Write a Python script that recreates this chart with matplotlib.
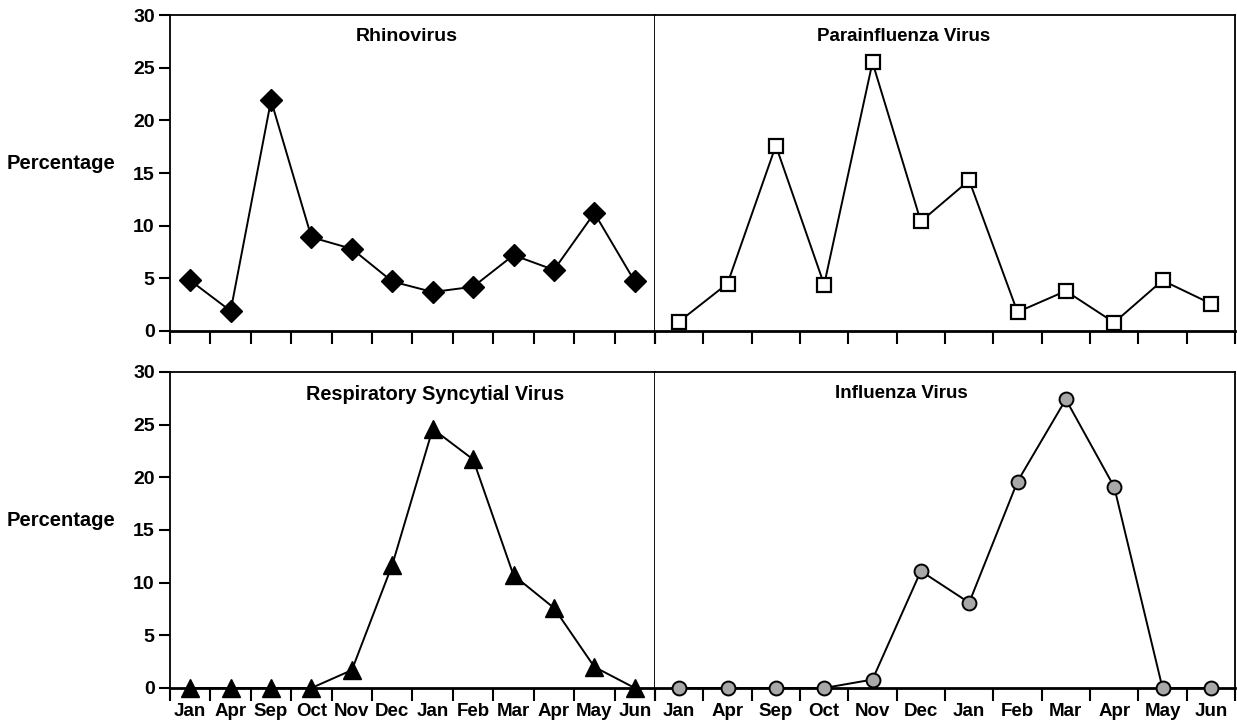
import matplotlib
matplotlib.use("Agg")
import matplotlib.pyplot as plt
import numpy as np

months = ["Jan", "Apr", "Sep", "Oct", "Nov", "Dec", "Jan", "Feb", "Mar", "Apr", "May", "Jun"]
rhino = [4.8, 1.9, 21.9, 8.9, 7.8, 4.7, 3.7, 4.2, 7.2, 5.8, 11.2, 4.7]
parainfluenza = [0.9, 4.5, 17.6, 4.4, 25.5, 10.4, 14.3, 1.8, 3.8, 0.8, 4.8, 2.6]
rsv = [0.0, 0.0, 0.0, 0.0, 1.7, 11.7, 24.6, 21.7, 10.7, 7.6, 2.0, 0.0]
influenza = [0.0, 0.0, 0.0, 0.0, 0.8, 11.1, 8.1, 19.6, 27.4, 19.1, 0.0, 0.0]
titles = ["Rhinovirus", "Parainfluenza Virus", "Respiratory Syncytial Virus", "Influenza Virus"]
yticks = [0, 5, 10, 15, 20, 25, 30]

FONT = "Liberation Sans"
plt.rcParams["font.family"] = [FONT, "DejaVu Sans"]

W, H = 1237, 723
fig = plt.figure(figsize=(W / 100, H / 100), dpi=100)

def frac(x0, y0, x1, y1):
    return [x0 / W, 1 - y1 / H, (x1 - x0) / W, (y1 - y0) / H]

xl0, xl1, xr1 = 170, 655, 1235
rows = [(15, 331), (372, 688)]

series = [rhino, parainfluenza, rsv, influenza]
styles = [
    dict(marker="D", markersize=11, markerfacecolor="black", markeredgecolor="black"),
    dict(marker="s", markersize=9.5, markerfacecolor="white", markeredgecolor="black", markeredgewidth=1.6),
    dict(marker="^", markersize=13, markerfacecolor="black", markeredgecolor="black"),
    dict(marker="o", markersize=10, markerfacecolor="#a8a8a8", markeredgecolor="black", markeredgewidth=1.4),
]
title_x = [0.489, 0.428, 0.546, 0.424]
title_size = [14, 13.5, 14.3, 13.5]

n = len(months)
x = np.arange(n) + 0.5
for r, (yt, yb) in enumerate(rows):
    for c in range(2):
        idx = r * 2 + c
        x0, x1 = (xl0, xl1) if c == 0 else (xl1, xr1)
        ax = fig.add_axes(frac(x0, yt, x1, yb))
        ax.plot(x, series[idx], color="black", linewidth=1.4, clip_on=False, zorder=3, **styles[idx])
        ax.set_xlim(0, n)
        ax.set_ylim(0, 30)
        for s in ax.spines.values():
            s.set_linewidth(1.3)
        ax.spines["bottom"].set_linewidth(2.0)
        ax.set_xticks(np.arange(n + 1))
        ax.set_xticklabels([])
        ax.tick_params(axis="x", which="major", direction="out", length=9, width=1.5)
        if r == 1:
            ax.set_xticks(x, minor=True)
            ax.set_xticklabels(months, minor=True, fontsize=13.5, fontweight="bold")
            ax.tick_params(axis="x", which="minor", length=0, pad=11)
        if c == 0:
            ax.set_yticks(yticks)
            ax.set_yticklabels([str(v) for v in yticks], fontsize=14, fontweight="bold")
            ax.tick_params(axis="y", direction="out", length=8, width=1.5, pad=3)
            ax.set_ylabel("Percentage", fontsize=14.5, fontweight="bold", rotation=0, labelpad=0)
            ax.yaxis.set_label_coords(-0.224, 0.5)
        else:
            ax.set_yticks([])
            ax.spines["left"].set_visible(False)
        ax.text(title_x[idx], 0.96, titles[idx], transform=ax.transAxes, ha="center", va="top",
                fontsize=title_size[idx], fontweight="bold")

fig.savefig("out.png", dpi=100)
